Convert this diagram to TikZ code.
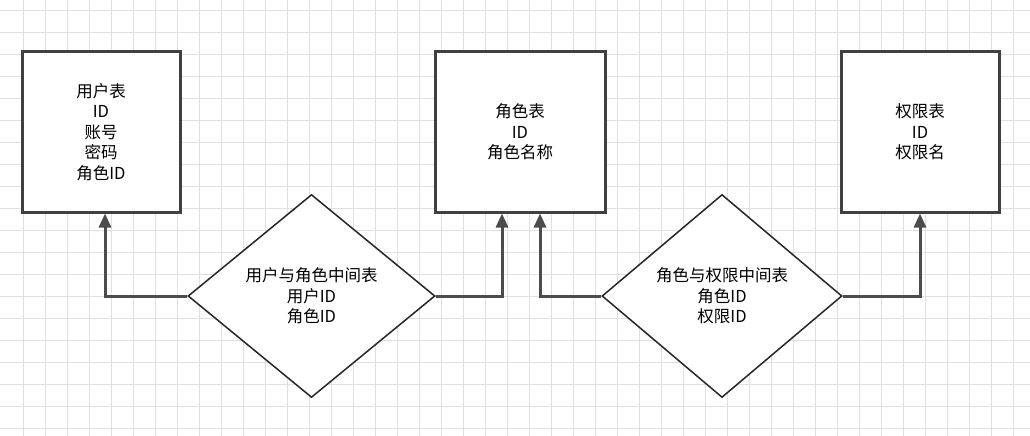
\documentclass[tikz,border=0pt]{standalone}
\usepackage{fontspec}
\setmainfont{Liberation Sans}
\newfontfamily\cjk{Noto Sans CJK SC}
\usetikzlibrary{shapes.geometric,arrows.meta}
\begin{document}
\begin{tikzpicture}[x=1pt,y=-1pt,
  box/.style={draw=black!75,line width=3pt,fill=white,minimum width=158pt,minimum height=160pt,align=center,font=\cjk\fontsize{16.5}{20.5}\selectfont},
  dia/.style={draw=black!85,line width=1.5pt,fill=white,diamond,minimum width=247pt,minimum height=203pt,inner sep=0pt,align=center,font=\cjk\fontsize{16.5}{20.5}\selectfont},
  conn/.style={draw=black!70,line width=3pt,-{Triangle[length=14pt,width=12pt]}}]
\useasboundingbox (0,0) rectangle (1030,436);
\fill[white] (0,0) rectangle (1030,436);
\foreach \i in {1,...,47} \draw[black!12,line width=0.8pt] (\i*22+1,0) -- (\i*22+1,436);
\foreach \i in {0,...,19} \draw[black!12,line width=0.8pt] (0,\i*22+10) -- (1030,\i*22+10);
\node[box] (u) at (101,132) {用户表\\ID\\账号\\密码\\角色ID};
\node[box,minimum width=170pt] (r) at (520,132) {角色表\\ID\\角色名称};
\node[box] (p) at (920,132) {权限表\\ID\\权限名};
\node[dia] (d1) at (311.5,296) {用户与角色中间表\\用户ID\\角色ID};
\node[dia,minimum width=240pt] (d2) at (722,296) {角色与权限中间表\\角色ID\\权限ID};
\draw[conn] (d1.west) -| ([xshift=4pt]u.south);
\draw[conn] (d1.east) -| ([xshift=-18pt]r.south);
\draw[conn] (d2.west) -| ([xshift=20pt]r.south);
\draw[conn] (d2.east) -| (p.south);
\end{tikzpicture}
\end{document}
